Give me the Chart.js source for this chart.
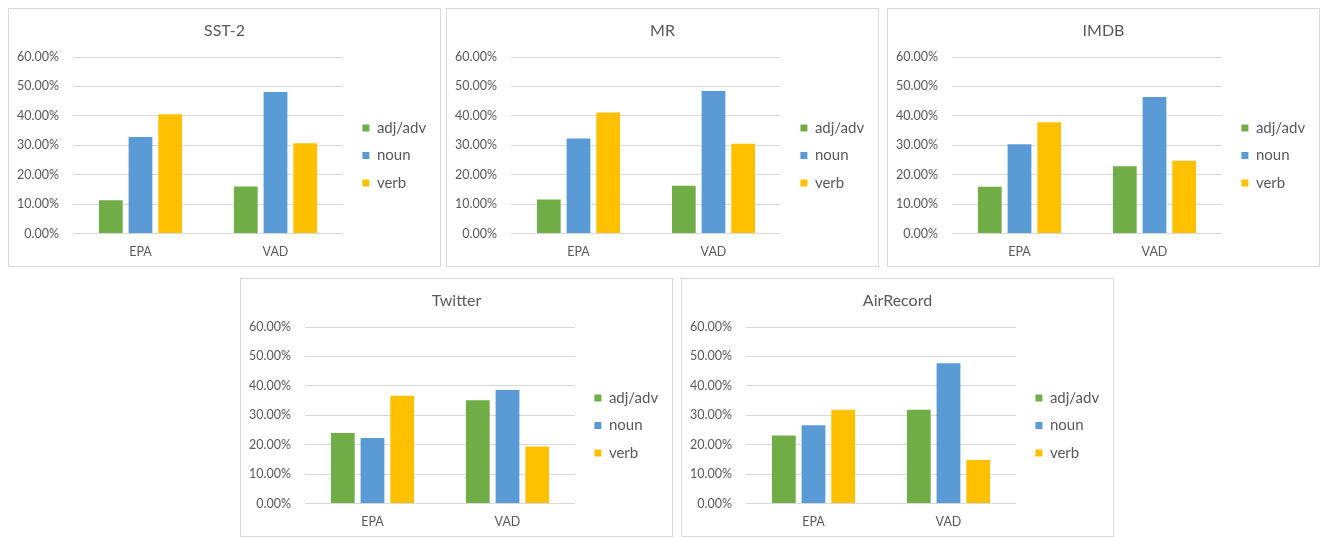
<!DOCTYPE html>
<html>
<head>
<meta charset="utf-8">
<script src="https://cdn.jsdelivr.net/npm/chart.js@4.4.1/dist/chart.umd.min.js"></script>
<style>
  html, body { margin: 0; padding: 0; background: #ffffff; }
  body { width: 1320px; height: 537px; position: relative; overflow: hidden; }
  .panel { position: absolute; width: 431px; height: 257px; border: 1px solid #d9d9d9; background: #fff; }
  .panel canvas { display: block; }
</style>
</head>
<body>
<div class="panel" style="left:8px;top:8px"><canvas id="c-sst2" width="431" height="257"></canvas></div>
<div class="panel" style="left:446px;top:8px"><canvas id="c-mr" width="431" height="257"></canvas></div>
<div class="panel" style="left:887px;top:8px"><canvas id="c-imdb" width="431" height="257"></canvas></div>
<div class="panel" style="left:240px;top:278px"><canvas id="c-twitter" width="431" height="257"></canvas></div>
<div class="panel" style="left:681px;top:278px"><canvas id="c-air" width="431" height="257"></canvas></div>
<script>
// Categories and series
const categories = ['EPA', 'VAD'];
const seriesNames = ['adj/adv', 'noun', 'verb'];
const seriesColors = ['#70AD47', '#5B9BD5', '#FFC000'];

// Share of each part of speech (%), one array per dataset and series
const sst2AdjAdv = [11.3, 16.0];
const sst2Noun   = [32.8, 48.1];
const sst2Verb   = [40.5, 30.7];

const mrAdjAdv = [11.6, 16.2];
const mrNoun   = [32.3, 48.4];
const mrVerb   = [41.1, 30.5];

const imdbAdjAdv = [15.9, 22.9];
const imdbNoun   = [30.3, 46.4];
const imdbVerb   = [37.8, 24.7];

const twitterAdjAdv = [24.0, 35.1];
const twitterNoun   = [22.3, 38.6];
const twitterVerb   = [36.6, 19.4];

const airRecordAdjAdv = [23.1, 31.9];
const airRecordNoun   = [26.6, 47.7];
const airRecordVerb   = [31.9, 14.8];

// Value axis
const yMin = 0;
const yMax = 60;
const yStep = 10;

const panels = [
  { id: 'c-sst2',    title: 'SST-2',     series: [sst2AdjAdv, sst2Noun, sst2Verb] },
  { id: 'c-mr',      title: 'MR',        series: [mrAdjAdv, mrNoun, mrVerb] },
  { id: 'c-imdb',    title: 'IMDB',      series: [imdbAdjAdv, imdbNoun, imdbVerb] },
  { id: 'c-twitter', title: 'Twitter',   series: [twitterAdjAdv, twitterNoun, twitterVerb] },
  { id: 'c-air',     title: 'AirRecord', series: [airRecordAdjAdv, airRecordNoun, airRecordVerb] }
];

const FONT = 'Lato, "Open Sans", "Liberation Sans", sans-serif';
const TEXT = '#595959';
const GRID = '#d9d9d9';

// Fixed frame of the plot inside each canvas
const PLOT_LEFT = 64;
const PLOT_RIGHT = 334;
const PLOT_BOTTOM = 224.5;

// Keeps the legend column a fixed width and nudges it next to the plot
const legendPlacement = {
  id: 'legendPlacement',
  afterInit(chart, args, opts) {
    const legend = chart.legend;
    const baseFit = legend.fit.bind(legend);
    legend.fit = function () {
      baseFit();
      this.width = chart.width - PLOT_RIGHT;
    };
  },
  afterLayout(chart, args, opts) {
    const legend = chart.legend;
    legend.left += opts.dx; legend.right += opts.dx;
    legend.top += opts.dy;  legend.bottom += opts.dy;
  }
};

panels.forEach(p => {
  const ctx = document.getElementById(p.id);
  new Chart(ctx, {
    type: 'bar',
    data: {
      labels: categories,
      datasets: p.series.map((values, i) => ({
        label: seriesNames[i],
        data: values,
        backgroundColor: seriesColors[i],
        borderWidth: 0,
        categoryPercentage: 0.66,
        barPercentage: 0.8
      }))
    },
    options: {
      responsive: false,
      animation: false,
      events: [],
      layout: { padding: 0 },
      plugins: {
        title: {
          display: true,
          text: p.title,
          color: TEXT,
          font: { family: FONT, size: 16, weight: 'normal', lineHeight: 1.2 },
          padding: { top: 12.4, bottom: 16.4 }
        },
        legend: {
          display: true,
          position: 'right',
          align: 'center',
          labels: {
            color: TEXT,
            font: { family: FONT, size: 15 },
            boxWidth: 7,
            boxHeight: 7,
            padding: 12.6
          }
        },
        legendPlacement: { dx: 6.8, dy: 18.0 },
        tooltip: { enabled: false }
      },
      scales: {
        x: {
          grid: { display: false, drawTicks: false },
          border: { display: false },
          ticks: {
            color: TEXT,
            font: { family: FONT, size: 12.5 },
            padding: 10.7
          },
          afterFit(scale) { scale.height = 257 - PLOT_BOTTOM; }
        },
        y: {
          min: yMin,
          max: yMax,
          grid: { color: GRID, lineWidth: 1, drawTicks: false },
          border: { display: false },
          ticks: {
            stepSize: yStep,
            color: TEXT,
            font: { family: FONT, size: 12.5 },
            padding: 14,
            callback: v => v.toFixed(2) + '%'
          },
          afterFit(scale) { scale.width = PLOT_LEFT; }
        }
      }
    },
    plugins: [legendPlacement]
  });
});
</script>
</body>
</html>
